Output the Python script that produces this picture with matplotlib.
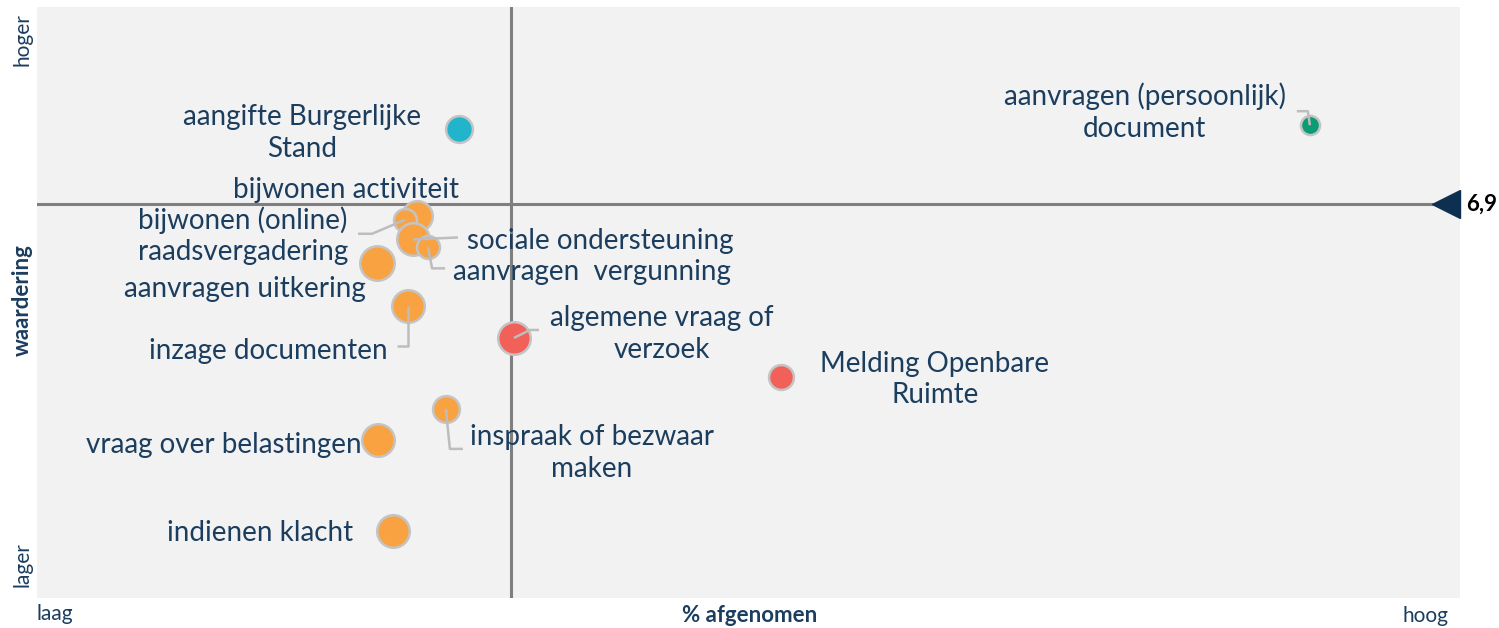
import matplotlib
matplotlib.use("Agg")
import matplotlib.pyplot as plt
import matplotlib.transforms as mtransforms

plt.rcParams["font.family"] = ["Lato", "DejaVu Sans"]

# --- data -------------------------------------------------------------------
labels = [
    "aanvragen (persoonlijk)\ndocument",
    "aangifte Burgerlijke\nStand",
    "bijwonen activiteit",
    "bijwonen (online)\nraadsvergadering",
    "sociale ondersteuning",
    "aanvragen  vergunning",
    "aanvragen uitkering",
    "inzage documenten",
    "algemene vraag of\nverzoek",
    "Melding Openbare\nRuimte",
    "inspraak of bezwaar\nmaken",
    "vraag over belastingen",
    "indienen klacht",
]
afgenomen = [53.67, 17.79, 16.02, 15.52, 15.85, 16.49, 14.34, 15.64, 20.11, 31.37, 17.24, 14.38, 15.01]
waardering = [7.10, 7.09, 6.87, 6.86, 6.81, 6.79, 6.75, 6.64, 6.56, 6.46, 6.38, 6.30, 6.07]
omvang = [100, 196, 256, 144, 289, 144, 324, 289, 289, 169, 196, 289, 289]
groep = ["groen", "blauw", "oranje", "oranje", "oranje", "oranje", "oranje",
         "oranje", "rood", "rood", "oranje", "oranje", "oranje"]

gemiddelde_waardering = 6.9
grens_afgenomen = 20

# --- layout (pixel offsets from each bubble: text pos, ha, leader path) ------
label_layout = [
    ((-165, -13), "center", [(0, 0), (-2, -14), (-13, -14)]),
    ((-157, 4), "center", None),
    ((-71, -26), "center", None),
    ((-162, 16), "center", [(0, 0), (-33, 14), (-47, 14)]),
    ((54, 2), "left", [(0, 0), (45, -2)]),
    ((25, 25), "left", [(0, 0), (4, 21), (17, 21)]),
    ((-132, 26), "center", None),
    ((-140, 45), "center", [(0, 0), (0, 40), (-11, 40)]),
    ((148, -4), "center", [(0, 0), (16, -8), (25, -8)]),
    ((154, 2), "center", None),
    ((146, 44), "center", [(0, 0), (4, 40), (17, 40)]),
    ((-16, 5), "right", None),
    ((-133, 2), "center", None),
]

kleuren = {"groen": "#0c9c74", "blauw": "#22b4cb", "oranje": "#f9a241", "rood": "#f2605a"}
tekstkleur = "#1b3d5e"
lijnkleur = "#7f7f7f"

dpi = 100
fig = plt.figure(figsize=(1499 / dpi, 628 / dpi), dpi=dpi)
ax = fig.add_axes([37 / 1499, 30 / 628, 1423 / 1499, 591 / 628])
ax.set_facecolor("#f2f2f2")
for s in ax.spines.values():
    s.set_visible(False)
ax.set_xlim(0, 60)
ax.set_ylim(5.9, 7.4)
ax.set_xticks([])
ax.set_yticks([])

ax.axvline(grens_afgenomen, color=lijnkleur, lw=2.2, zorder=1)
ax.axhline(gemiddelde_waardering, color=lijnkleur, lw=2.2, zorder=1)

# marker on the right for the average
blend = mtransforms.blended_transform_factory(ax.transAxes, ax.transData)
ax.plot([0.99], [gemiddelde_waardering], marker="<", ms=20, color="#0d2f50",
        transform=blend, clip_on=False, zorder=5)
ax.text(1.004, gemiddelde_waardering, "6,9", fontsize=16, fontweight="bold",
        color="black", va="center", ha="left", transform=blend)

# bubbles
for i in range(len(labels)):
    ax.scatter(afgenomen[i], waardering[i], s=omvang[i] * 1.9,
               color=kleuren[groep[i]], edgecolor="#c4c4c4", linewidth=1.8,
               zorder=3 + i * 0.01)

px_to_pt = 72 / dpi
for i, lab in enumerate(labels):
    (dx, dy), ha, path = label_layout[i]
    ax.annotate(lab, (afgenomen[i], waardering[i]),
                xytext=(dx * px_to_pt, -dy * px_to_pt), textcoords="offset points",
                ha=ha, va="center", fontsize=20, color=tekstkleur,
                linespacing=1.27, multialignment="center", zorder=6)
    if path:
        # leader line, drawn in display space from the bubble centre
        disp = ax.transData.transform((afgenomen[i], waardering[i]))
        seg_x = [disp[0] + ox for ox, oy in path]
        seg_y = [disp[1] - oy for ox, oy in path]
        ax.plot(seg_x, seg_y, color="#bdbdbd", lw=1.8, transform=None, zorder=4,
                solid_capstyle="butt")

# axis texts
fig.text(22 / 1499, 1 - 300 / 628, "waardering", rotation=90, fontsize=16,
         fontweight="bold", color=tekstkleur, ha="center", va="center")
fig.text(750 / 1499, 1 - 616 / 628, "% afgenomen", fontsize=16,
         fontweight="bold", color=tekstkleur, ha="center", va="center")
fig.text(22 / 1499, 1 - 40 / 628, "hoger", rotation=90, fontsize=15,
         color=tekstkleur, ha="center", va="center")
fig.text(22 / 1499, 1 - 565 / 628, "lager", rotation=90, fontsize=15,
         color=tekstkleur, ha="center", va="center")
fig.text(55 / 1499, 1 - 614 / 628, "laag", fontsize=15,
         color=tekstkleur, ha="center", va="center")
fig.text(1425 / 1499, 1 - 616 / 628, "hoog", fontsize=15,
         color=tekstkleur, ha="center", va="center")

fig.savefig("out.png", dpi=dpi)
